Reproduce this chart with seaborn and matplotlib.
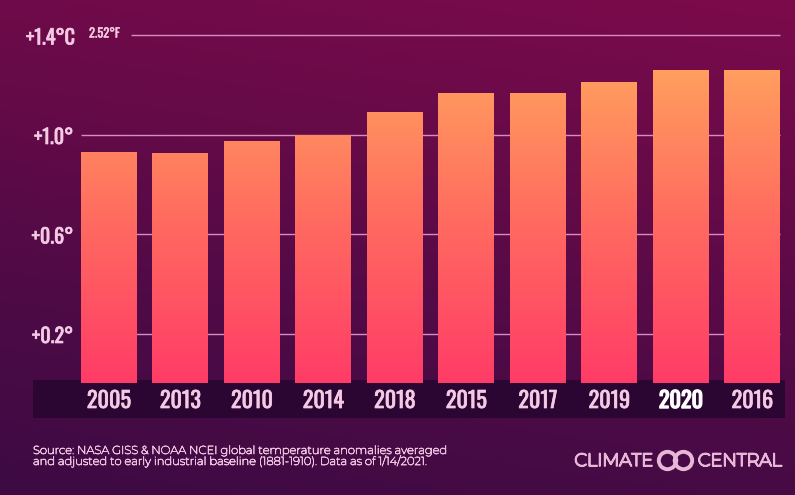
import numpy as np
import pandas as pd
import matplotlib
matplotlib.use("Agg")
import matplotlib.pyplot as plt
import matplotlib.patheffects as pe
import seaborn as sns
from matplotlib.colors import LinearSegmentedColormap

# ---- data ----
years = ["2005", "2013", "2010", "2014", "2018", "2015", "2017", "2019", "2020", "2016"]
anomaly_c = [0.93, 0.925, 0.975, 1.0, 1.09, 1.165, 1.165, 1.21, 1.26, 1.26]
grid_values = [0.2, 0.6, 1.0, 1.4]
grid_labels = ["+0.2°", "+0.6°", "+1.0°", "+1.4°C"]
top_label_f = "2.52°F"
highlight_year = "2020"
source_lines = [
    "Source: NASA GISS & NOAA NCEI global temperature anomalies averaged",
    "and adjusted to early industrial baseline (1881-1910). Data as of 1/14/2021.",
]
brand_left, brand_right = "CLIMATE", "CENTRAL"

df = pd.DataFrame({"year": years, "anomaly": anomaly_c})

sns.set_theme(style="white")
COND = ["Oswald", "DejaVu Sans"]
plt.rcParams["font.family"] = ["Montserrat", "DejaVu Sans"]

W, H = 795, 495
fig = plt.figure(figsize=(W / 100, H / 100), dpi=100)
ax = fig.add_axes([0, 0, 1, 1])

# pixel <-> data mapping (layout)
PX_X0, PX_DX = 108.8, 71.49
PX_Y0, PX_DY = 383.25, 248.75
xlim = (-PX_X0 / PX_DX, (W - PX_X0) / PX_DX)
ylim = ((PX_Y0 - H) / PX_DY, PX_Y0 / PX_DY)

def dx(px):
    return (px - PX_X0) / PX_DX

def dy(py):
    return (PX_Y0 - py) / PX_DY

def thick(color, lw):
    return [pe.withStroke(linewidth=lw, foreground=color)]

# ---- background gradient ----
ny, nx = 200, 200
v = np.linspace(0, 1, ny)[:, None]  # 0 bottom, 1 top
u = np.linspace(0, 1, nx)[None, :]
t = np.clip(0.8 * v + 0.2 * u, 0, 1)
bg_cmap = LinearSegmentedColormap.from_list(
    "bg", ["#3d0a44", "#4e0a46", "#660a48", "#7c0a4b"])
ax.imshow(t, cmap=bg_cmap, extent=[xlim[0], xlim[1], ylim[0], ylim[1]],
          origin="lower", aspect="auto", zorder=0, vmin=0, vmax=1)

# ---- bars ----
sns.barplot(data=df, x="year", y="anomaly", order=years, width=0.78,
            color="#ff6a60", ax=ax, zorder=3, saturation=1)

bar_cmap = LinearSegmentedColormap.from_list("bar", ["#ff3c67", "#ff6a60", "#ffa05e"])
vmax = max(anomaly_c) * 1.02
for p in ax.patches:
    x0, w, h = p.get_x(), p.get_width(), p.get_height()
    grad = np.linspace(0, h / vmax, 256)[:, None]
    im = ax.imshow(grad, cmap=bar_cmap, vmin=0, vmax=1,
                   extent=[x0, x0 + w, 0, h], origin="lower", aspect="auto", zorder=3)
    im.set_clip_path(p)
    p.set_facecolor("none")
    p.set_edgecolor("none")

# ---- gridlines ----
grid_color = "#d98cbf"
left_edge = -0.39
right_edge = len(years) - 1 + 0.39
ax.hlines(grid_values[:3], left_edge, right_edge, color=grid_color, lw=1.0, zorder=1)
ax.hlines(grid_values[3], dx(131), right_edge, color=grid_color, lw=1.0, zorder=1)

label_color = "#f3c9e3"
for val, lab in zip(grid_values[:3], grid_labels[:3]):
    ax.text(dx(73), val - 9.5 / PX_DY, lab, ha="right", va="baseline",
            fontsize=14.5, color=label_color, family=COND,
            path_effects=thick(label_color, 0.5))
ax.text(dx(26), grid_values[3] - 9.5 / PX_DY, grid_labels[3], ha="left", va="baseline",
        fontsize=14.5, color=label_color, family=COND,
        path_effects=thick(label_color, 0.5))
ax.text(dx(89), grid_values[3] - 2.5 / PX_DY, top_label_f, ha="left", va="baseline",
        fontsize=9, color=label_color, family=COND,
        path_effects=thick(label_color, 0.3))

# ---- dark band with year labels ----
band = plt.Rectangle((dx(33), dy(418)), dx(785) - dx(33), dy(380) - dy(418),
                     facecolor="#2b0632", edgecolor="none", zorder=2)
ax.add_patch(band)
for i, yr in enumerate(years):
    hl = yr == highlight_year
    col = "white" if hl else label_color
    ax.text(i, dy(408), yr, ha="center", va="baseline", fontsize=16,
            color=col, family=COND, zorder=4,
            path_effects=thick(col, 1.0 if hl else 0.5))

# ---- footer ----
src_color = "#e9bfdc"
ax.text(dx(33), dy(454), source_lines[0], ha="left", va="baseline",
        fontsize=8.3, color=src_color, path_effects=thick(src_color, 0.5))
ax.text(dx(33), dy(465), source_lines[1], ha="left", va="baseline",
        fontsize=8.3, color=src_color, path_effects=thick(src_color, 0.5))

brand_color = "#e7b7d8"
ax.text(dx(653), dy(466), brand_left, ha="right", va="baseline", fontsize=12.8,
        color=brand_color, path_effects=thick(brand_color, 1.3))
ax.text(dx(698), dy(466), brand_right, ha="left", va="baseline", fontsize=12.8,
        color=brand_color, path_effects=thick(brand_color, 1.3))
ax.plot([dx(667), dx(683)], [dy(460), dy(460)], ls="none", marker="o", ms=12.5,
        mfc="none", mec=brand_color, mew=2.8, zorder=5)
ax.plot([dx(675)], [dy(460)], ls="none", marker="o", ms=4,
        mfc=brand_color, mec="none", zorder=5)

ax.set_xlim(*xlim)
ax.set_ylim(*ylim)
ax.axis("off")

fig.savefig("out.png", dpi=100)
